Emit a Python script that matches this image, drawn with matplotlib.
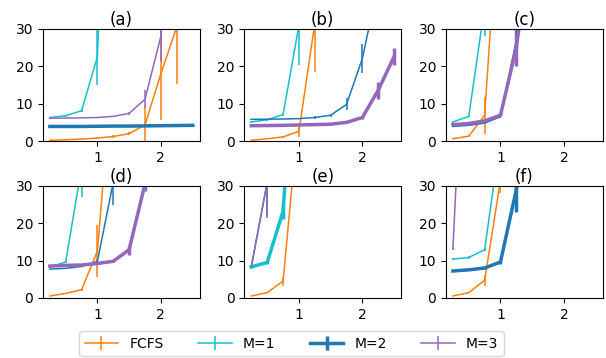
import numpy as np
import matplotlib
matplotlib.use('Agg')
import matplotlib.pyplot as plt

n = np.nan
x = [0.25, 0.5, 0.75, 1.0, 1.25, 1.5, 1.75, 2.0, 2.25, 2.5]
panels = ['(a)', '(b)', '(c)', '(d)', '(e)', '(f)']
labels = ['FCFS', 'M=1', 'M=2', 'M=3']
colors = ['tab:orange', 'tab:cyan', 'tab:blue', 'tab:purple']
# which series is drawn thick in each panel
thick = ['M=2', 'M=3', 'M=3', 'M=3', 'M=1', 'M=2']

# mean response per panel
fcfs = [
    [0.2, 0.35, 0.5, 0.8, 1.2, 2.0, 4.3, 18.0, 30.5, 60],
    [0.2, 0.6, 1.1, 2.6, 31.5, 80, n, n, n, n],
    [0.6, 1.3, 6.9, 70, n, n, n, n, n, n],
    [0.5, 1.2, 2.2, 12.5, 64, n, n, n, n, n],
    [0.5, 1.4, 4.5, 50, n, n, n, n, n, n],
    [0.5, 1.4, 4.7, 31.5, 80, n, n, n, n, n],
]
fcfs_err = [
    [0.05, 0.1, 0.1, 0.2, 0.3, 0.4, 5.0, 12.5, 15.3, 20],
    [0.05, 0.1, 0.2, 1.6, 13.0, 20, n, n, n, n],
    [0.1, 0.2, 5.0, 20, n, n, n, n, n, n],
    [0.1, 0.2, 0.3, 7.0, 20, n, n, n, n, n],
    [0.1, 0.2, 1.2, 20, n, n, n, n, n, n],
    [0.1, 0.2, 1.4, 3.5, 20, n, n, n, n, n],
]
m1 = [
    [6.3, 6.8, 8.1, 22.6, 140, n, n, n, n, n],
    [5.1, 5.7, 7.1, 31.0, 120, n, n, n, n, n],
    [5.1, 6.6, 36.0, 120, n, n, n, n, n, n],
    [8.3, 9.6, 35.0, 120, n, n, n, n, n, n],
    [8.3, 9.5, 23.2, 85, n, n, n, n, n, n],
    [10.4, 10.8, 12.9, 43, 120, n, n, n, n, n],
]
m1_err = [
    [0.2, 0.3, 0.4, 7.6, 30, n, n, n, n, n],
    [0.2, 0.3, 0.4, 10.7, 30, n, n, n, n, n],
    [0.2, 0.3, 8.0, 30, n, n, n, n, n, n],
    [0.2, 0.3, 8.0, 30, n, n, n, n, n, n],
    [0.2, 0.3, 2.2, 20, n, n, n, n, n, n],
    [0.2, 0.3, 0.4, 10, 30, n, n, n, n, n],
]
m2 = [
    [3.9, 3.9, 3.9, 3.95, 4.0, 4.0, 4.05, 4.1, 4.15, 4.2],
    [5.8, 5.85, 5.9, 6.0, 6.3, 6.9, 9.8, 22.1, 42, n],
    [3.9, 4.2, 4.8, 6.5, 27, 80, n, n, n, n],
    [7.7, 7.9, 8.4, 9.8, 31, 90, n, n, n, n],
    [8.4, 31, 90, n, n, n, n, n, n, n],
    [7.2, 7.5, 8.0, 9.6, 29, 90, n, n, n, n],
]
m2_err = [
    [0.1, 0.1, 0.1, 0.1, 0.1, 0.1, 0.1, 0.1, 0.1, 0.1],
    [0.1, 0.1, 0.1, 0.2, 0.3, 0.4, 1.6, 3.9, 10, n],
    [0.1, 0.1, 0.2, 0.3, 5, 20, n, n, n, n],
    [0.1, 0.1, 0.2, 0.3, 6.0, 20, n, n, n, n],
    [0.2, 9, 20, n, n, n, n, n, n, n],
    [0.1, 0.1, 0.2, 0.4, 6.0, 20, n, n, n, n],
]
m3 = [
    [6.1, 6.15, 6.2, 6.3, 6.6, 7.4, 11.2, 28.0, 90, n],
    [4.1, 4.15, 4.2, 4.3, 4.4, 4.5, 5.0, 6.3, 13.6, 22.6],
    [4.4, 4.7, 5.4, 6.9, 25.0, 56, n, n, n, n],
    [8.5, 8.7, 8.8, 9.2, 9.8, 12.9, 30.5, 90, n, n],
    [8.5, 31, 90, n, n, n, n, n, n, n],
    [13.2, 100, n, n, n, n, n, n, n, n],
]
m3_err = [
    [0.1, 0.1, 0.1, 0.1, 0.2, 0.3, 2.4, 6.5, 20, n],
    [0.1, 0.1, 0.1, 0.1, 0.1, 0.2, 0.3, 0.5, 2.3, 2.2],
    [0.1, 0.1, 0.2, 0.3, 5.0, 20, n, n, n, n],
    [0.1, 0.1, 0.1, 0.2, 0.3, 1.3, 2.0, 20, n, n],
    [0.2, 9.5, 20, n, n, n, n, n, n, n],
    [0.3, 20, n, n, n, n, n, n, n, n],
]

means = [fcfs, m1, m2, m3]
errs = [fcfs_err, m1_err, m2_err, m3_err]

fig, axes = plt.subplots(2, 3, figsize=(6.06, 3.58), dpi=100, sharex=True)
fig.subplots_adjust(left=0.0705, right=0.9946, top=0.919, bottom=0.168,
                    wspace=0.284, hspace=0.40)

handles = []
for i, ax in enumerate(axes.flat):
    for lab, col, mean, err in zip(labels, colors, means, errs):
        lw = 2.5 if lab == thick[i] else 1.1
        h = ax.errorbar(x, mean[i], yerr=err[i], color=col, lw=lw, label=lab)
        if i == 0:
            handles.append(h)
    ax.set_ylim(0, 30)
    ax.set_yticks([0, 10, 20, 30])
    ax.set_xticks([1, 2])
    ax.tick_params(labelbottom=True)
    ax.set_title(panels[i], pad=3)

fig.legend(handles, labels, loc='lower center', ncol=4,
           bbox_to_anchor=(0.481, -0.015), columnspacing=2.5,
           handlelength=2.4)

fig.savefig('out.png', dpi=100)
